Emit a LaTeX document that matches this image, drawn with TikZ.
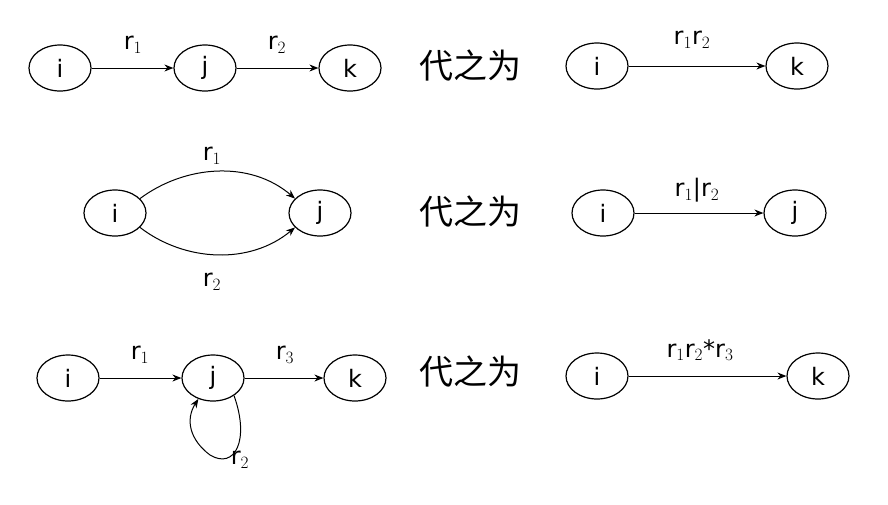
\documentclass[tikz,border=0pt]{standalone}
\usepackage{fontspec}
\setmainfont{DejaVu Sans}
\newfontfamily\cjk{Noto Sans CJK SC}
\usetikzlibrary{shapes.geometric,arrows.meta}
\begin{document}
\begin{tikzpicture}[x=1pt,y=-1pt,
  st/.style={draw,ellipse,line width=1.2pt,minimum width=62pt,minimum height=46pt,inner sep=0pt,font=\fontsize{24}{28}\selectfont},
  ar/.style={-{Stealth[length=9pt,width=7pt]},line width=1pt},
  lb/.style={font=\fontsize{24}{28}\selectfont,inner sep=0pt},
  cn/.style={font=\cjk\fontsize{34}{40}\selectfont}]
\useasboundingbox (0,0) rectangle (888,504);
% row 1
\node[st] (a1) at (60,68) {i};
\node[st] (b1) at (205,68) {j};
\node[st] (c1) at (350,68) {k};
\draw[ar] (a1) -- (b1);
\draw[ar] (b1) -- (c1);
\node[lb] (l11) at (133,45) {r$_1$};
\node[lb] (l12) at (277,45) {r$_2$};
\node[cn] (t1) at (470,66) {代之为};
\node[st] (d1) at (597,66) {i};
\node[st] (e1) at (797,66) {k};
\draw[ar] (d1) -- (e1);
\node[lb] (l13) at (692,40) {r$_1$r$_2$};
% row 2
\node[st] (a2) at (115,213) {i};
\node[st] (b2) at (320,213) {j};
\draw[ar] (a2.30) .. controls (185,165) and (250,160) .. (b2.150);
\draw[ar] (a2.-30) .. controls (185,262) and (250,265) .. (b2.-150);
\node[lb] (l21) at (212,156) {r$_1$};
\node[lb] (l22) at (212,282) {r$_2$};
\node[cn] (t2) at (470,212) {代之为};
\node[st] (d2) at (603,213) {i};
\node[st] (e2) at (795,213) {j};
\draw[ar] (d2) -- (e2);
\node[lb] (l23) at (697,190) {r$_1$|r$_2$};
% row 3
\node[st] (a3) at (68,378) {i};
\node[st] (b3) at (213,378) {j};
\node[st] (c3) at (355,378) {k};
\draw[ar] (a3) -- (b3);
\draw[ar] (b3) -- (c3);
\draw[ar] (b3.-40) .. controls (250,440) and (235,470) .. (210,455) .. controls (190,440) and (185,420) .. (b3.-125);
\node[lb] (l31) at (140,355) {r$_1$};
\node[lb] (l32) at (285,355) {r$_3$};
\node[lb] (l33) at (240,460) {r$_2$};
\node[cn] (t3) at (470,372) {代之为};
\node[st] (d3) at (597,376) {i};
\node[st] (e3) at (818,376) {k};
\draw[ar] (d3) -- (e3);
\node[lb] (l34) at (700,350) {r$_1$r$_2$*r$_3$};
\end{tikzpicture}
\end{document}
